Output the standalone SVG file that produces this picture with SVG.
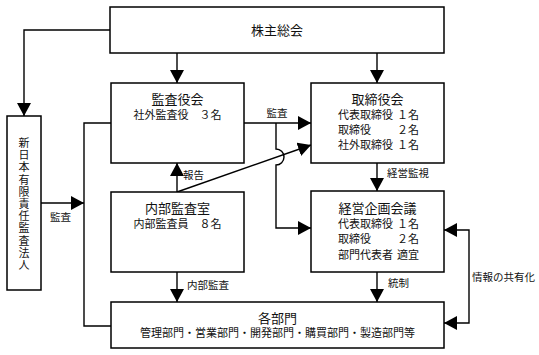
<svg xmlns="http://www.w3.org/2000/svg" width="539" height="355" viewBox="0 0 539 355">
<style>
.box{fill:#fff;stroke:#000;stroke-width:1.5}
.ln{fill:none;stroke:#000;stroke-width:1.4}
text{font-family:"Liberation Serif","Noto Sans CJK JP",serif;fill:#111}
.t{font-size:13px;text-anchor:middle}
.s{font-size:11px}
.c{text-anchor:middle}
.l{font-size:10.5px}
.v{font-size:11px;text-anchor:middle}
</style>
<defs>
<marker id="ah" markerUnits="userSpaceOnUse" markerWidth="13" markerHeight="14" refX="13" refY="7" orient="auto-start-reverse"><path d="M0,0 L13,7 L0,14 z" fill="#000"/></marker>
</defs>
<rect width="539" height="355" fill="#fff"/>
<g id="connectors">
<path class="ln" d="M177,53 V83" marker-end="url(#ah)"/>
<path class="ln" d="M377,53 V83" marker-end="url(#ah)"/>
<path class="ln" d="M110,30 H24 V116" marker-end="url(#ah)"/>
<path class="ln" d="M244,123 H311" marker-end="url(#ah)"/>
<path class="ln" d="M276,123 V149 A8,8 0 0 1 276,165 V228 H311" marker-end="url(#ah)"/>
<path class="ln" d="M177,192 L311,145" marker-end="url(#ah)"/>
<path class="ln" d="M177,192 V163" marker-end="url(#ah)"/>
<path class="ln" d="M41,203 H84" marker-end="url(#ah)"/>
<path class="ln" d="M111,123 H84 V326 H111"/>
<path class="ln" d="M377,163 V191" marker-end="url(#ah)"/>
<path class="ln" d="M377,272 V302" marker-end="url(#ah)"/>
<path class="ln" d="M177,272 V302" marker-end="url(#ah)"/>
<path class="ln" d="M444,230 H469 V323 H444" marker-start="url(#ah)" marker-end="url(#ah)"/>
<text class="l c" x="277" y="117">監査</text>
<text class="l" x="387" y="177">経営監視</text>
<text class="l" x="388" y="287">統制</text>
<text class="l" x="187" y="289">内部監査</text>
<text class="l" x="183" y="179">報告</text>
<text class="l" x="50" y="221">監査</text>
<text class="l" x="472" y="281">情報の共有化</text>
</g>
<g id="n-shareholders">
<rect class="box" x="110" y="7" width="334" height="46"/>
<text class="t" x="277" y="35">株主総会</text>
</g>
<g id="n-auditors">
<rect class="box" x="111" y="83" width="133" height="80"/>
<text class="t" x="177.5" y="104">監査役会</text>
<text class="s c" x="177.5" y="119">社外監査役　３名</text>
</g>
<g id="n-board">
<rect class="box" x="311" y="83" width="133" height="80"/>
<text class="t" x="377.5" y="104">取締役会</text>
<text class="s" x="338" y="119">代表取締役</text><text class="s" x="397" y="119">１名</text>
<text class="s" x="338" y="134">取締役</text><text class="s" x="397" y="134">２名</text>
<text class="s" x="338" y="149">社外取締役</text><text class="s" x="397" y="149">１名</text>
</g>
<g id="n-audit-firm">
<rect class="box" x="7" y="116" width="34" height="174"/>
<text class="v" x="24" y="147"><tspan x="24">新</tspan><tspan x="24" dy="12.2">日</tspan><tspan x="24" dy="12.2">本</tspan><tspan x="24" dy="12.2">有</tspan><tspan x="24" dy="12.2">限</tspan><tspan x="24" dy="12.2">責</tspan><tspan x="24" dy="12.2">任</tspan><tspan x="24" dy="12.2">監</tspan><tspan x="24" dy="12.2">査</tspan><tspan x="24" dy="12.2">法</tspan><tspan x="24" dy="12.2">人</tspan></text>
</g>
<g id="n-internal-audit">
<rect class="box" x="111" y="192" width="133" height="80"/>
<text class="t" x="177.5" y="213">内部監査室</text>
<text class="s c" x="177.5" y="228">内部監査員　８名</text>
</g>
<g id="n-planning">
<rect class="box" x="311" y="191" width="133" height="81"/>
<text class="t" x="377.5" y="213">経営企画会議</text>
<text class="s" x="338" y="228">代表取締役</text><text class="s" x="397" y="228">１名</text>
<text class="s" x="338" y="243">取締役</text><text class="s" x="397" y="243">２名</text>
<text class="s" x="338" y="259">部門代表者</text><text class="s" x="397" y="259">適宜</text>
</g>
<g id="n-departments">
<rect class="box" x="111" y="302" width="333" height="46"/>
<text class="t" x="277.5" y="323">各部門</text>
<text class="s c" x="277.5" y="337">管理部門・営業部門・開発部門・購買部門・製造部門等</text>
</g>
</svg>
